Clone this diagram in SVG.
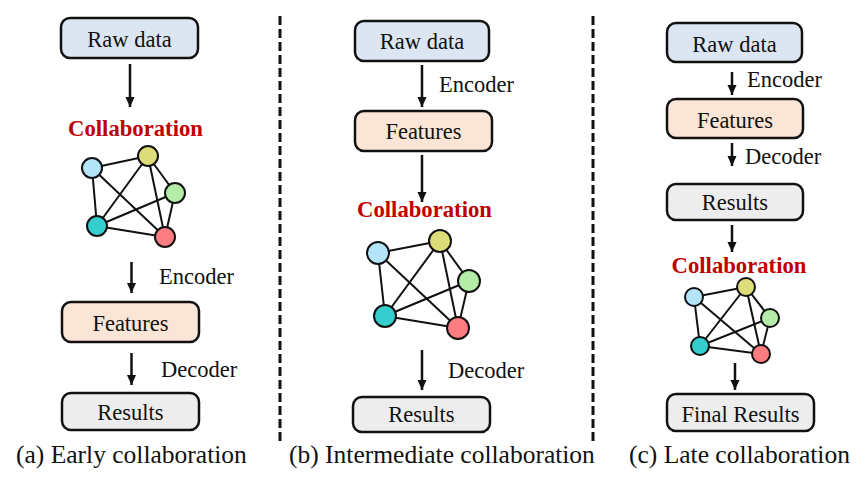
<svg xmlns="http://www.w3.org/2000/svg" width="862" height="490" viewBox="0 0 862 490" font-family="'Liberation Serif', 'DejaVu Serif', serif">
<style>
text{font-family:'Liberation Serif','DejaVu Serif',serif;fill:#111}
.lbl{font-size:22.5px;text-anchor:middle}
.side{font-size:22.5px}
.cap{font-size:25.5px}
.col{font-size:22.7px;font-weight:bold;fill:#c00000;text-anchor:middle}
.box{stroke:#111;stroke-width:2.5}
.raw{fill:#dce6f2}
.feat{fill:#fbe5d6}
.res{fill:#ededed}
.arr{stroke:#111;stroke-width:2.5;fill:none;marker-end:url(#ah)}
.edge{stroke:#111;stroke-width:2}
.nd{stroke:#111;stroke-width:2}
.n1{fill:#b4e4f8}.n2{fill:#dcdc78}.n3{fill:#b4eca8}.n4{fill:#35cdcd}.n5{fill:#ff7c80}
.sep{stroke:#111;stroke-width:3;stroke-dasharray:9 4}
</style>
<defs>
<marker id="ah" markerUnits="userSpaceOnUse" markerWidth="10" markerHeight="12" refX="11" refY="5" orient="auto" viewBox="0 0 11 10">
<path d="M0,0 L11,5 L0,10 z" fill="#111"/>
</marker>
</defs>

<g id="separators">
<line class="sep" x1="280" y1="16" x2="280" y2="443"/>
<line class="sep" x1="593" y1="16" x2="593" y2="443"/>
</g>

<g id="connectors">
<line class="arr" x1="130" y1="64" x2="130" y2="107"/>
<line class="arr" x1="131.5" y1="262" x2="131.5" y2="293"/>
<line class="arr" x1="131.5" y1="353" x2="131.5" y2="385"/>
<line class="arr" x1="422" y1="65" x2="422" y2="107"/>
<line class="arr" x1="422" y1="155" x2="422" y2="202"/>
<line class="arr" x1="422" y1="350" x2="422" y2="390"/>
<line class="arr" x1="732" y1="72" x2="732" y2="95"/>
<line class="arr" x1="732" y1="143" x2="732" y2="166"/>
<line class="arr" x1="732" y1="225" x2="732" y2="252"/>
<line class="arr" x1="735" y1="363" x2="735" y2="390"/>
</g>

<g id="a-raw"><rect class="box raw" x="61" y="18" width="137" height="40" rx="9"/><text class="lbl" x="129.5" y="47">Raw data</text></g>
<g id="a-collab-label"><text class="col" x="135.5" y="136">Collaboration</text></g>
<g id="a-graph">
<g class="edge">
<line x1="92" y1="168" x2="148" y2="156"/><line x1="92" y1="168" x2="97" y2="226"/><line x1="92" y1="168" x2="165" y2="237"/>
<line x1="148" y1="156" x2="97" y2="226"/><line x1="148" y1="156" x2="165" y2="237"/><line x1="148" y1="156" x2="175" y2="193"/>
<line x1="175" y1="193" x2="97" y2="226"/><line x1="175" y1="193" x2="165" y2="237"/><line x1="97" y1="226" x2="165" y2="237"/>
</g>
<circle class="nd n1" cx="92" cy="168" r="10"/><circle class="nd n2" cx="148" cy="156" r="10"/><circle class="nd n3" cx="175" cy="193" r="10"/><circle class="nd n4" cx="97" cy="226" r="10"/><circle class="nd n5" cx="165" cy="237" r="10"/>
</g>
<g id="a-encoder"><text class="side" x="159" y="284">Encoder</text></g>
<g id="a-features"><rect class="box feat" x="62" y="302" width="137" height="40" rx="9"/><text class="lbl" x="130.5" y="331">Features</text></g>
<g id="a-decoder"><text class="side" x="161" y="377">Decoder</text></g>
<g id="a-results"><rect class="box res" x="62" y="393" width="137" height="37" rx="9"/><text class="lbl" x="130.5" y="420">Results</text></g>
<g id="a-caption"><text class="cap" x="16" y="463">(a) Early collaboration</text></g>

<g id="b-raw"><rect class="box raw" x="355" y="21" width="134" height="40" rx="9"/><text class="lbl" x="422" y="49">Raw data</text></g>
<g id="b-encoder"><text class="side" x="439" y="92">Encoder</text></g>
<g id="b-features"><rect class="box feat" x="355" y="111" width="137" height="40" rx="9"/><text class="lbl" x="423.5" y="139">Features</text></g>
<g id="b-collab-label"><text class="col" x="424.5" y="217">Collaboration</text></g>
<g id="b-graph">
<g class="edge">
<line x1="378" y1="253" x2="440" y2="241"/><line x1="378" y1="253" x2="385" y2="316"/><line x1="378" y1="253" x2="458" y2="328"/>
<line x1="440" y1="241" x2="385" y2="316"/><line x1="440" y1="241" x2="458" y2="328"/><line x1="440" y1="241" x2="469" y2="281"/>
<line x1="469" y1="281" x2="385" y2="316"/><line x1="469" y1="281" x2="458" y2="328"/><line x1="385" y1="316" x2="458" y2="328"/>
</g>
<circle class="nd n1" cx="378" cy="253" r="11"/><circle class="nd n2" cx="440" cy="241" r="11"/><circle class="nd n3" cx="469" cy="281" r="11"/><circle class="nd n4" cx="385" cy="316" r="11"/><circle class="nd n5" cx="458" cy="328" r="11"/>
</g>
<g id="b-decoder"><text class="side" x="448" y="378">Decoder</text></g>
<g id="b-results"><rect class="box res" x="353" y="397" width="137" height="35" rx="9"/><text class="lbl" x="421.5" y="422">Results</text></g>
<g id="b-caption"><text class="cap" x="289" y="463">(b) Intermediate collaboration</text></g>

<g id="c-raw"><rect class="box raw" x="667" y="23" width="135" height="39" rx="9"/><text class="lbl" x="734.5" y="52">Raw data</text></g>
<g id="c-encoder"><text class="side" x="747" y="87">Encoder</text></g>
<g id="c-features"><rect class="box feat" x="667" y="99" width="136" height="39" rx="9"/><text class="lbl" x="735" y="128">Features</text></g>
<g id="c-decoder"><text class="side" x="745" y="164">Decoder</text></g>
<g id="c-results"><rect class="box res" x="667" y="184" width="136" height="36" rx="9"/><text class="lbl" x="735" y="210">Results</text></g>
<g id="c-collab-label"><text class="col" x="739" y="273">Collaboration</text></g>
<g id="c-graph">
<g class="edge">
<line x1="694" y1="297" x2="746" y2="287"/><line x1="694" y1="297" x2="700" y2="346"/><line x1="694" y1="297" x2="761" y2="354"/>
<line x1="746" y1="287" x2="700" y2="346"/><line x1="746" y1="287" x2="761" y2="354"/><line x1="746" y1="287" x2="770" y2="318"/>
<line x1="770" y1="318" x2="700" y2="346"/><line x1="770" y1="318" x2="761" y2="354"/><line x1="700" y1="346" x2="761" y2="354"/>
</g>
<circle class="nd n1" cx="694" cy="297" r="9"/><circle class="nd n2" cx="746" cy="287" r="9"/><circle class="nd n3" cx="770" cy="318" r="9"/><circle class="nd n4" cx="700" cy="346" r="9"/><circle class="nd n5" cx="761" cy="354" r="9"/>
</g>
<g id="c-final"><rect class="box res" x="667" y="394" width="147" height="37" rx="9"/><text class="lbl" x="740.5" y="422">Final Results</text></g>
<g id="c-caption"><text class="cap" x="629" y="463">(c) Late collaboration</text></g>
</svg>
